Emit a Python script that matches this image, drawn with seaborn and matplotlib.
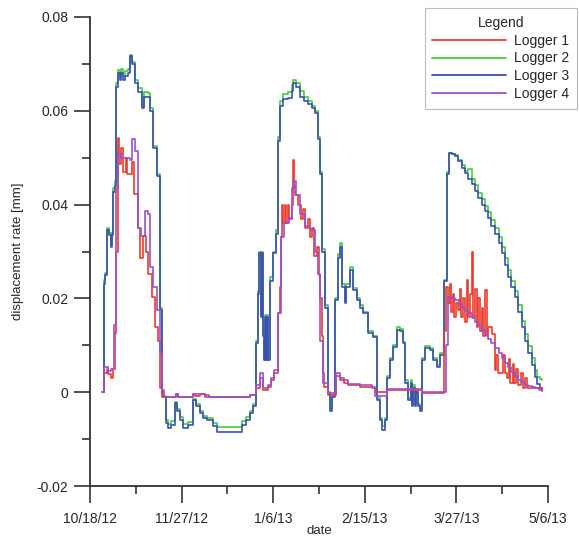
import numpy as np
import pandas as pd
import matplotlib
matplotlib.use('Agg')
import matplotlib.pyplot as plt
import seaborn as sns
from matplotlib.lines import Line2D

# days since 10/18/12
start = pd.Timestamp('2012-10-18')

# Logger 2 and Logger 3 share the same breakpoints
days_23 = [5.7, 6.1, 6.6, 7.4, 8.5, 9.2, 9.8, 10.0, 11.0, 11.4, 12.2, 13.0, 13.5, 14.2, 15.3, 16.5, 17.5, 18.5, 19.7, 21.0, 22.7, 23.5, 25.3, 26.2, 27.5, 29.3, 30.6, 31.4,
           31.9, 33.2, 34.1, 35.5, 37.1, 38.0, 39.3, 40.6, 42.8, 45.0, 46.5, 48.0, 49.5, 51.1, 53.7, 55.5, 65.5, 66.4, 68.0, 69.9, 71.2,
           72.5, 73.4, 73.8, 74.6, 75.0, 75.5, 76.0, 76.4, 76.9, 77.3, 77.7, 78.6, 79.9, 81.2, 82.1, 83.0, 84.3, 86.5, 88.2, 88.6, 90.0, 91.7, 93.5, 95.2, 97.0, 98.3, 99.6, 100.4, 101.3, 102.6, 103.9, 104.8, 105.7,
           107.0, 108.3, 109.2, 110.0, 111.4, 112.0, 113.5, 114.8, 116.6, 117.9, 119.2, 121.4, 123.6, 125.3, 126.6, 127.5, 128.8, 129.7, 131.0, 132.3, 134.1, 135.4, 136.7, 137.6, 138.9, 140.0, 140.6, 141.2, 141.9, 142.5, 143.2, 144.1, 145.0, 146.3, 148.5, 149.8, 151.5, 152.8, 154.6, 155.9,
           156.8, 158.0, 159.4, 160.9, 162.4, 163.7, 165.1, 166.6, 168.1, 169.6, 171.2, 172.5, 173.8, 175.3, 176.9, 178.4, 179.9, 181.2, 182.5, 184.0, 185.6, 187.1, 188.6, 190.0, 191.3, 192.8, 194.3, 195.4, 196.5, 197.4]

logger3 = [0.0, 0.023, 0.025, 0.0345, 0.0335, 0.031, 0.0335, 0.0426, 0.044, 0.065, 0.068, 0.0665, 0.068, 0.0665, 0.0675, 0.068, 0.0717, 0.070, 0.066, 0.064, 0.0606, 0.063, 0.063, 0.060, 0.052, 0.046, 0.0175, 0.0,
           -0.001, -0.0066, -0.0077, -0.007, -0.0023, -0.004, -0.006, -0.0077, -0.007, -0.0017, -0.003, -0.0045, -0.0055, -0.006, -0.0072, -0.0085, -0.0085, -0.007, -0.006, -0.0045, -0.003,
           0.0104, 0.021, 0.0296, 0.016, 0.0296, 0.012, 0.0068, 0.016, 0.0068, 0.016, 0.0068, 0.0238, 0.0296, 0.0338, 0.0536, 0.061, 0.0625, 0.0628, 0.0643, 0.066, 0.065, 0.063, 0.062, 0.0615, 0.0605, 0.0596, 0.054, 0.0466, 0.030, 0.018, -0.0002, -0.004, -0.001,
           0.0196, 0.0287, 0.031, 0.0224, 0.019, 0.0225, 0.026, 0.0217, 0.0196, 0.018, 0.0168, 0.0126, 0.0117, -0.0017, -0.006, -0.008, -0.006, 0.003, 0.0068, 0.0096, 0.0132, 0.013, 0.0104, 0.002, -0.0017, 0.002, -0.003, 0.001, -0.003, 0.0, -0.003, -0.004, 0.0068, 0.0094, 0.009, 0.0068, 0.0053, 0.0079, 0.0238, 0.0466,
           0.0509, 0.0507, 0.0504, 0.0492, 0.0477, 0.0467, 0.0455, 0.0443, 0.043, 0.0415, 0.040, 0.0386, 0.0372, 0.0355, 0.0338, 0.0318, 0.0296, 0.0272, 0.0245, 0.0225, 0.0202, 0.017, 0.0138, 0.011, 0.0083, 0.0058, 0.0032, 0.0018, 0.0009, 0.0004]

logger2 = [0.0, 0.024, 0.0255, 0.035, 0.034, 0.0315, 0.034, 0.0435, 0.045, 0.066, 0.0688, 0.0675, 0.069, 0.0675, 0.0685, 0.069, 0.072, 0.0705, 0.0665, 0.0648, 0.061, 0.064, 0.0638, 0.0605, 0.0525, 0.0465, 0.018, 0.0,
           -0.0008, -0.006, -0.0068, -0.0062, -0.002, -0.0035, -0.0052, -0.0068, -0.0063, -0.0015, -0.0025, -0.004, -0.005, -0.0055, -0.0065, -0.0075, -0.0075, -0.0062, -0.0052, -0.004, -0.0025,
           0.011, 0.0215, 0.030, 0.0165, 0.030, 0.0125, 0.007, 0.0165, 0.007, 0.0165, 0.007, 0.0245, 0.030, 0.0345, 0.0545, 0.062, 0.0635, 0.064, 0.0655, 0.0665, 0.066, 0.0642, 0.063, 0.062, 0.061, 0.060, 0.0545, 0.047, 0.0305, 0.0185, 0.0, -0.0035, -0.0005,
           0.020, 0.0295, 0.0318, 0.023, 0.0195, 0.023, 0.0268, 0.0222, 0.020, 0.0185, 0.0172, 0.013, 0.012, -0.0013, -0.0055, -0.0072, -0.0055, 0.0035, 0.0072, 0.010, 0.0138, 0.0135, 0.0108, 0.0025, -0.0013, 0.0025, -0.0025, 0.0015, -0.0025, 0.0005, -0.0025, -0.0035, 0.0072, 0.0098, 0.0094, 0.0072, 0.0057, 0.0083, 0.024, 0.047,
           0.051, 0.0508, 0.0505, 0.0496, 0.0485, 0.0472, 0.0475, 0.0455, 0.0442, 0.0425, 0.0412, 0.0398, 0.0384, 0.0368, 0.035, 0.033, 0.031, 0.0286, 0.026, 0.0238, 0.0215, 0.0185, 0.0152, 0.0125, 0.0098, 0.0072, 0.0048, 0.0032, 0.0028, 0.0025]

days_4 = [5.2, 6.1, 7.4, 8.0, 9.2, 10.0, 10.5, 11.4, 12.2, 13.5, 15.3, 17.5, 18.3, 19.7, 21.0, 22.3, 24.0, 25.3, 26.2, 27.5, 29.3, 30.6, 31.4, 32.5,
          37.5, 38.5, 45.0, 50.0, 69.9,
          72.5, 74.2, 75.5, 77.7, 79.0, 80.3, 82.1, 83.5, 84.7, 86.9, 88.2, 89.0, 90.0, 91.7, 93.9, 96.1, 98.3, 99.6, 100.4, 101.7, 103.9,
          107.5, 109.2, 111.0, 112.7, 118.0, 123.1, 124.5, 129.7, 145.0, 154.6, 155.5,
          156.3, 158.0, 159.4, 161.0, 162.4, 163.7, 165.1, 166.6, 168.1, 169.6, 171.2, 172.5, 173.8, 175.3, 176.9, 178.4, 179.9, 181.2, 182.5, 184.0, 185.6, 187.1, 188.6, 190.0, 191.3, 192.8, 194.3, 196.0, 197.4]
logger4 = [0.0, 0.0053, 0.0053, 0.0045, 0.005, 0.005, 0.0143, 0.0436, 0.051, 0.050, 0.050, 0.0495, 0.054, 0.0515, 0.035, 0.0333, 0.0387, 0.038, 0.0266, 0.0224, 0.0175, 0.0083, 0.0004, -0.001,
           -0.0003, -0.001, -0.0003, -0.001, -0.0005,
           0.0015, 0.004, 0.001, 0.0015, 0.003, 0.0047, 0.0168, 0.033, 0.036, 0.0372, 0.0436, 0.045, 0.042, 0.038, 0.0355, 0.0345, 0.030, 0.0253, 0.011, 0.002, -0.0002,
           0.004, 0.003, 0.0025, 0.0018, 0.0015, 0.0012, -0.0008, 0.0006, 0.0, 0.0, 0.010,
           0.0202, 0.0200, 0.0196, 0.0188, 0.018, 0.0174, 0.0168, 0.0159, 0.015, 0.0141, 0.0132, 0.0123, 0.0114, 0.0104, 0.0094, 0.0083, 0.0073, 0.0063, 0.0053, 0.0043, 0.0034, 0.0027, 0.0021, 0.0016, 0.0013, 0.0011, 0.0009, 0.0005, 0.0003]

days_1 = [5.2, 6.1, 7.4, 8.0, 9.2, 10.0, 10.9, 11.4, 12.2, 12.8, 13.5, 14.4, 15.6, 16.2, 18.3, 19.2, 21.0, 21.8, 23.1, 24.5, 25.3, 27.1, 28.4, 29.7, 30.6, 31.4,
          37.5, 38.5, 45.0, 46.0, 48.0, 50.0, 52.0, 69.9,
          72.5, 74.2, 75.5, 77.7, 79.0, 80.3, 82.1, 83.0, 83.5, 84.0, 84.4, 85.2, 85.6, 86.5, 87.0, 88.2, 88.6, 89.0, 89.5, 91.0, 92.0, 93.0, 94.0, 95.0, 96.0, 97.0, 98.0, 99.0, 100.0, 100.6, 101.3, 101.7, 102.3, 103.9,
          107.5, 109.2, 111.0, 112.7, 118.0, 123.1, 124.5, 129.7, 145.0, 154.6,
          155.5, 156.3, 157.0, 157.6, 158.3, 159.0, 160.0, 160.7, 161.5, 162.0, 163.0, 163.7, 164.5, 165.0, 166.0, 166.8, 167.3, 168.1, 168.8, 169.5,
          170.2, 171.0, 171.6, 172.5, 173.2, 174.0, 175.5, 176.9, 177.5, 178.3, 179.5, 180.5, 181.2, 182.0, 183.0, 183.5, 184.5, 185.2, 186.0, 186.8,
          188.0, 189.0, 190.0, 191.0, 194.0, 197.4]
logger1 = [0.0, 0.004, 0.005, 0.0038, 0.003, 0.005, 0.0126, 0.030, 0.0543, 0.0487, 0.052, 0.047, 0.050, 0.0466, 0.049, 0.0423, 0.035, 0.0287, 0.0333, 0.0298, 0.0253, 0.0202, 0.0138, 0.011, 0.001, -0.001,
           -0.0004, -0.001, -0.0004, -0.0008, -0.0003, -0.0006, -0.001, -0.0005,
           0.001, 0.003, 0.0005, 0.0012, 0.0025, 0.0042, 0.0168, 0.0224, 0.033, 0.040, 0.036, 0.040, 0.036, 0.040, 0.037, 0.040, 0.0495, 0.044, 0.042, 0.040, 0.037, 0.039, 0.035, 0.037, 0.033, 0.035, 0.029, 0.031, 0.025, 0.020, 0.012, 0.004, 0.0012, -0.0005,
           0.0035, 0.0025, 0.002, 0.0015, 0.0012, 0.001, 0.0, 0.0004, -0.0002, 0.013,
           0.0224, 0.019, 0.023, 0.017, 0.021, 0.016, 0.019, 0.0175, 0.022, 0.016, 0.020, 0.015, 0.024, 0.016, 0.021, 0.030, 0.016, 0.022, 0.014, 0.020,
           0.013, 0.018, 0.012, 0.0217, 0.012, 0.014, 0.0125, 0.0047, 0.008, 0.004, 0.004, 0.008, 0.004, 0.003, 0.007, 0.002, 0.006, 0.002, 0.005, 0.0015,
           0.004, 0.001, 0.003, 0.0008, 0.0009, 0.0003]

names = ['Logger 1', 'Logger 2', 'Logger 3', 'Logger 4']
colors = {'Logger 1': '#ee3b2e', 'Logger 2': '#45cc3c', 'Logger 3': '#3d4fb4', 'Logger 4': '#9b4fd0'}

xtick_labels = ['10/18/12', '11/27/12', '1/6/13', '2/15/13', '3/27/13', '5/6/13']
ytick_values = [-0.02, 0, 0.02, 0.04, 0.06, 0.08]
ytick_labels = ['-0.02', '0', '0.02', '0.04', '0.06', '0.08']

def to_dates(days):
    return start + pd.to_timedelta(np.array(days), unit='D')

series = {
    'Logger 1': (days_1, logger1),
    'Logger 2': (days_23, logger2),
    'Logger 3': (days_23, logger3),
    'Logger 4': (days_4, logger4),
}

sns.set_style('ticks')
plt.rcParams['font.family'] = ['Liberation Sans', 'DejaVu Sans']

fig = plt.figure(figsize=(5.79, 5.36), dpi=100)
ax = fig.add_axes([90 / 579, 1 - 486 / 536, 458 / 579, 469 / 536])

# draw green first so blue sits on top, purple over red
for name in ['Logger 2', 'Logger 3', 'Logger 1', 'Logger 4']:
    d, v = series[name]
    df = pd.DataFrame({'date': to_dates(d), 'rate': v})
    sns.lineplot(data=df, x='date', y='rate', ax=ax, color=colors[name],
                 drawstyle='steps-post', linewidth=1.2, estimator=None, sort=False)

major_x = to_dates([0, 40, 80, 120, 160, 200])
minor_x = to_dates([20, 60, 100, 140, 180])
ax.set_xlim(major_x[0], major_x[-1])
ax.set_xticks(major_x)
ax.set_xticklabels(xtick_labels)
ax.set_xticks(minor_x, minor=True)
ax.set_ylim(-0.02, 0.08)
ax.set_yticks(ytick_values)
ax.set_yticklabels(ytick_labels)
ax.set_yticks([-0.01, 0.01, 0.03, 0.05, 0.07], minor=True)

sns.despine(ax=ax)
for sp in ['left', 'bottom']:
    ax.spines[sp].set_linewidth(1.3)
    ax.spines[sp].set_color('#333333')
ax.tick_params(which='major', length=11.5, width=1.2, color='#333333', labelsize=10, pad=4)
ax.tick_params(axis='x', which='major', length=12, pad=7)
ax.tick_params(which='minor', length=6, width=1.2, color='#333333')

ax.set_xlabel('date', fontsize=9.5, labelpad=-1)
ax.set_ylabel('displacement rate [mm]', fontsize=9.5, labelpad=9)

handles = [Line2D([0], [0], color=colors[n], linewidth=1.3) for n in names]
leg = ax.legend(handles, names, title='Legend', loc='upper right',
                bbox_to_anchor=(577 / 579, 1 - 8 / 536), bbox_transform=fig.transFigure,
                fontsize=10, title_fontsize=10, handlelength=5.3, handletextpad=0.6,
                labelspacing=0.28, borderpad=0.55, frameon=True, fancybox=False,
                borderaxespad=0)
leg.get_frame().set_edgecolor('#aaaaaa')
leg.get_frame().set_linewidth(0.8)

fig.savefig('out.png', dpi=100)
